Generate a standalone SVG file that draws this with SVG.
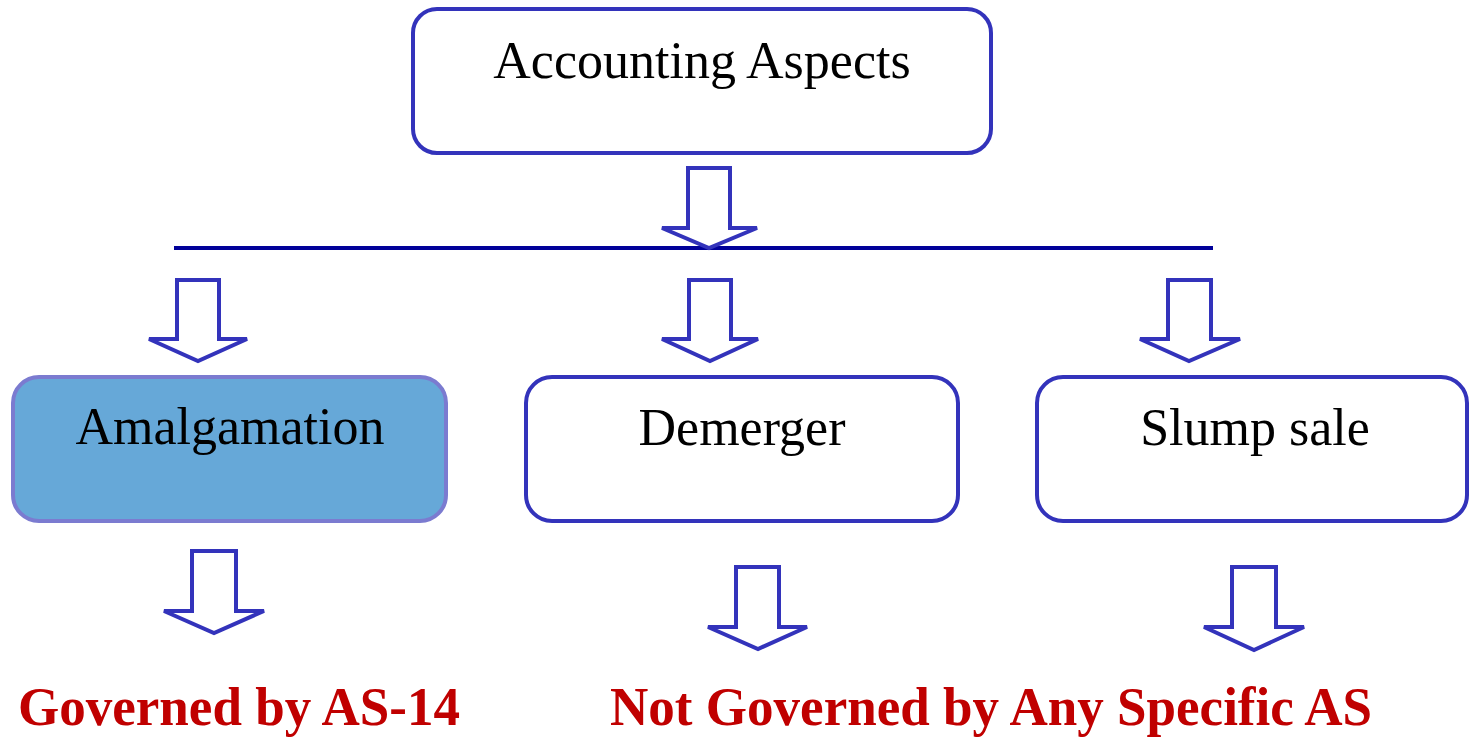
<svg xmlns="http://www.w3.org/2000/svg" width="1470" height="738" viewBox="0 0 1470 738">
<style>
.box{fill:#ffffff;stroke:#3333BB;stroke-width:4}
.hl{fill:#66A8D8;stroke:#7B7BD0;stroke-width:4}
.lbl{font-family:"Liberation Serif","Times New Roman",serif;font-size:52px;fill:#000000;text-anchor:middle}
.red{font-family:"Liberation Serif","Times New Roman",serif;font-size:54px;font-weight:bold;fill:#C00000}
.arr{fill:#ffffff;stroke:#3333BB;stroke-width:4;stroke-linejoin:miter}
.bar{stroke:#000099;stroke-width:4}
</style>
<rect width="1470" height="738" fill="#ffffff"/>
<g id="connectors">
<line class="bar" x1="174" y1="248" x2="1213" y2="248"/>
<path class="arr" d="M688,168 H730 V228 H757 L709,248 L662,228 H688 Z"/>
<path class="arr" d="M177,280 H219 V339 H247 L198,361 L149,339 H177 Z"/>
<path class="arr" d="M689,280 H731 V339 H758 L710,361 L662,339 H689 Z"/>
<path class="arr" d="M1168,280 H1211 V339 H1240 L1189,361 L1140,339 H1168 Z"/>
<path class="arr" d="M192,551 H236 V611 H264 L214,633 L164,611 H192 Z"/>
<path class="arr" d="M736,567 H779 V627 H807 L758,649 L708,627 H736 Z"/>
<path class="arr" d="M1232,567 H1276 V627 H1304 L1254,650 L1204,627 H1232 Z"/>
</g>
<g id="node-accounting">
<rect class="box" x="413" y="9" width="578" height="144" rx="24"/>
<text class="lbl" x="702" y="78">Accounting Aspects</text>
</g>
<g id="node-amalgamation">
<rect class="hl" x="13" y="377" width="433" height="144" rx="26"/>
<text class="lbl" x="230" y="444">Amalgamation</text>
</g>
<g id="node-demerger">
<rect class="box" x="526" y="377" width="432" height="144" rx="26"/>
<text class="lbl" x="742" y="445">Demerger</text>
</g>
<g id="node-slump">
<rect class="box" x="1037" y="377" width="430" height="144" rx="26"/>
<text class="lbl" x="1255" y="445">Slump sale</text>
</g>
<g id="label-governed">
<text class="red" x="18" y="725" textLength="442" lengthAdjust="spacingAndGlyphs">Governed by AS-14</text>
</g>
<g id="label-not-governed">
<text class="red" x="610" y="725" textLength="762" lengthAdjust="spacingAndGlyphs">Not Governed by Any Specific AS</text>
</g>
</svg>
